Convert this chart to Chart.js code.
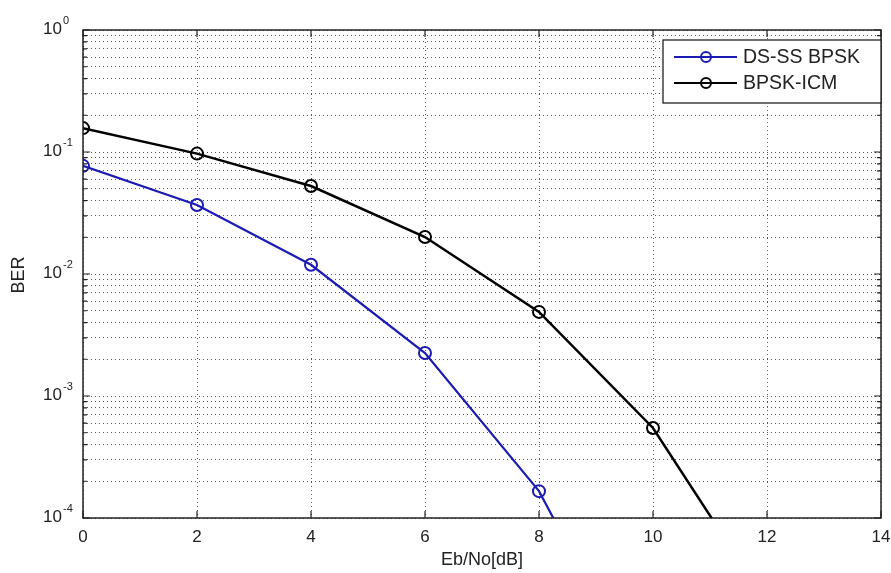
<!DOCTYPE html>
<html>
<head>
<meta charset="utf-8">
<script src="https://cdn.jsdelivr.net/npm/chart.js@4.4.1/dist/chart.umd.min.js"></script>
<style>
  html, body { margin: 0; padding: 0; background: #fff; }
  #wrap { width: 891px; height: 573px; position: relative; }
</style>
</head>
<body>
<div id="wrap"><canvas id="ber-chart"></canvas></div>
<script>
// Eb/No values (dB) and measured BER for each scheme
const ebno = [0, 2, 4, 6, 8, 10, 12];
const dsssBpsk = [0.077, 0.0368, 0.0119, 0.00225, 0.000166, 0.0000029];
const bpskIcm = [0.157, 0.097, 0.0526, 0.0201, 0.00489, 0.000547, 0.00002];
const xTicks = [0, 2, 4, 6, 8, 10, 12, 14];
const decades = [0, -1, -2, -3, -4];
const seriesNames = ['DS-SS BPSK', 'BPSK-ICM'];
const seriesColors = ['#1c1cb4', '#000000'];

const FONT = '"Liberation Sans", Arial, sans-serif';

function points(ys) {
    return ys.map((y, i) => ({ x: ebno[i], y: y }));
}

// log grid: 1..9 x each decade
const yGridValues = [];
for (let d = -4; d < 0; d++) {
    for (let m = 1; m <= 9; m++) yGridValues.push(m * Math.pow(10, d));
}
yGridValues.push(1);

// Draws the MATLAB-like frame, inward ticks, y labels, axis titles and legend
const matlabAxes = {
    id: 'matlabAxes',
    afterDraw(chart) {
        const ctx = chart.ctx;
        const area = chart.chartArea;
        const xs = chart.scales.x;
        const ys = chart.scales.y;
        ctx.save();

        // frame
        ctx.strokeStyle = '#222';
        ctx.lineWidth = 1.5;
        ctx.strokeRect(area.left, area.top, area.right - area.left, area.bottom - area.top);

        // x ticks, inward, bottom and top
        ctx.lineWidth = 1.2;
        ctx.beginPath();
        xTicks.forEach(v => {
            const px = xs.getPixelForValue(v);
            ctx.moveTo(px, area.bottom); ctx.lineTo(px, area.bottom - 7);
            ctx.moveTo(px, area.top); ctx.lineTo(px, area.top + 7);
        });
        // y ticks, inward, left and right
        yGridValues.forEach(v => {
            const py = ys.getPixelForValue(v);
            const major = Math.abs(Math.log10(v) - Math.round(Math.log10(v))) < 1e-9;
            const len = major ? 7 : 4;
            ctx.moveTo(area.left, py); ctx.lineTo(area.left + len, py);
            ctx.moveTo(area.right, py); ctx.lineTo(area.right - len, py);
        });
        ctx.stroke();

        // y tick labels 10^n
        ctx.fillStyle = '#222';
        decades.forEach(d => {
            const py = ys.getPixelForValue(Math.pow(10, d));
            ctx.font = '17px ' + FONT;
            ctx.textAlign = 'right';
            ctx.textBaseline = 'middle';
            ctx.fillText('10', 62, py - 1);
            ctx.font = '11px ' + FONT;
            ctx.textAlign = 'left';
            ctx.fillText(String(d), 63, py - 9);
        });

        // axis titles
        ctx.font = '18px ' + FONT;
        ctx.textAlign = 'center';
        ctx.textBaseline = 'middle';
        ctx.fillText('Eb/No[dB]', (area.left + area.right) / 2, 560);
        ctx.save();
        ctx.translate(19, 275);
        ctx.rotate(-Math.PI / 2);
        ctx.fillText('BER', 0, 0);
        ctx.restore();

        // legend
        const lx = 663, ly = 40, lw = 218, lh = 63;
        ctx.fillStyle = '#fff';
        ctx.fillRect(lx, ly, lw, lh);
        ctx.strokeStyle = '#222';
        ctx.lineWidth = 1.3;
        ctx.strokeRect(lx, ly, lw, lh);
        ctx.font = '19.5px ' + FONT;
        ctx.textAlign = 'left';
        ctx.textBaseline = 'middle';
        seriesNames.forEach((name, i) => {
            const y = ly + 17 + i * 26;
            ctx.strokeStyle = seriesColors[i];
            ctx.lineWidth = 2;
            ctx.beginPath();
            ctx.moveTo(674, y); ctx.lineTo(737, y);
            ctx.stroke();
            ctx.beginPath();
            ctx.arc(706, y, 5, 0, Math.PI * 2);
            ctx.stroke();
            ctx.fillStyle = '#222';
            ctx.fillText(name, 743, y + 1);
        });

        ctx.restore();
    }
};

const ctx = document.getElementById('ber-chart').getContext('2d');
const berChart = new Chart(ctx, {
    type: 'line',
    data: {
        datasets: [
            {
                label: seriesNames[0],
                data: points(dsssBpsk),
                borderColor: seriesColors[0],
                backgroundColor: 'rgba(0,0,0,0)',
                borderWidth: 2.2,
                pointRadius: 6,
                pointBorderWidth: 2,
                pointBackgroundColor: 'rgba(0,0,0,0)',
                pointBorderColor: seriesColors[0],
                tension: 0
            },
            {
                label: seriesNames[1],
                data: points(bpskIcm),
                borderColor: seriesColors[1],
                backgroundColor: 'rgba(0,0,0,0)',
                borderWidth: 2.5,
                pointRadius: 6,
                pointBorderWidth: 2,
                pointBackgroundColor: 'rgba(0,0,0,0)',
                pointBorderColor: seriesColors[1],
                tension: 0
            }
        ]
    },
    options: {
        responsive: true,
        maintainAspectRatio: false,
        animation: false,
        layout: {
            padding: { top: 30, right: 10, left: 0, bottom: 0 }
        },
        plugins: {
            legend: { display: false },
            tooltip: { enabled: false }
        },
        scales: {
            x: {
                type: 'linear',
                min: 0,
                max: 14,
                afterBuildTicks: scale => { scale.ticks = xTicks.map(v => ({ value: v })); },
                afterFit: scale => {
                    scale.height = 55;
                    scale.paddingLeft = 0;
                    scale.paddingRight = 0;
                },
                border: { display: false, dash: [1, 3] },
                grid: {
                    color: '#555',
                    lineWidth: 1,
                    drawTicks: false,
                    borderDash: [1, 3]
                },
                ticks: {
                    padding: 9,
                    color: '#222',
                    font: { family: FONT, size: 17 }
                }
            },
            y: {
                type: 'logarithmic',
                min: 1e-4,
                max: 1,
                afterBuildTicks: scale => { scale.ticks = yGridValues.map(v => ({ value: v })); },
                afterFit: scale => {
                    scale.width = 83;
                    scale.paddingTop = 0;
                    scale.paddingBottom = 0;
                },
                border: { display: false, dash: [1, 3] },
                grid: {
                    color: '#555',
                    lineWidth: 1,
                    drawTicks: false,
                    borderDash: [1, 3]
                },
                ticks: { display: false }
            }
        }
    },
    plugins: [matlabAxes]
});
</script>
</body>
</html>
